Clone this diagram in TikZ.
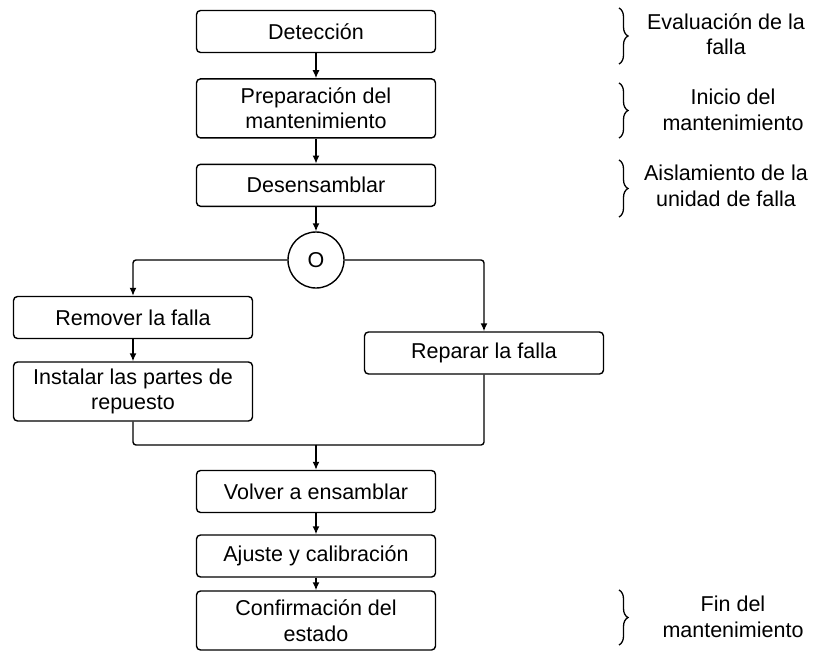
\documentclass[tikz,border=0pt]{standalone}
\usepackage{fontspec}
\setmainfont{Liberation Sans}
\usetikzlibrary{arrows.meta, positioning, decorations.pathreplacing}

\begin{document}
\begin{tikzpicture}[
                x=1pt, y=-1pt,
                node distance=25pt,
                line width=1.4pt,
                box/.style={draw, rounded corners=4pt, minimum width=239pt, minimum height=42pt, align=center, inner sep=2pt, font=\fontsize{21.5}{25.5}\selectfont},
                tallbox/.style={box, minimum height=59pt},
                etapa/.style={align=center, font=\fontsize{21.5}{25.5}\selectfont},
                llave/.style={decorate, decoration={brace, amplitude=9pt}, line width=1.3pt},
                flecha/.style={-{Latex[length=8pt, width=7pt]}}
            ]
                \useasboundingbox (0,0) rectangle (813,650);

                % columna principal
                \node[box] (deteccion) at (316,31.5) {Detección};
                \node[tallbox, below=of deteccion] (preparacion) {Preparación del\\mantenimiento};
                \node[box, below=of preparacion] (desensamblar) {Desensamblar};
                \node[draw, circle, minimum size=56pt, inner sep=0pt, font=\fontsize{21.5}{25.5}\selectfont] (o) at (316,260) {O};

                % ramas
                \node[box] (remover) at (133,317.5) {Remover la falla};
                \node[tallbox] (instalar) at (133,391.5) {Instalar las partes de\\repuesto};
                \node[box] (reparar) at (484,353) {Reparar la falla};

                \node[box] (volver) at (316,491.5) {Volver a ensamblar};
                \node[box] (ajuste) at (316,556) {Ajuste y calibración};
                \node[tallbox] (confirmacion) at (316,620.5) {Confirmación del\\estado};
                \coordinate (union) at (316,445);

                % etapas
                \node[etapa] (evaluacion) at (726,34) {Evaluación de la\\falla};
                \node[etapa] (inicio) at (733,110) {Inicio del\\mantenimiento};
                \node[etapa] (aislamiento) at (726,186) {Aislamiento de la\\unidad de falla};
                \node[etapa] (fin) at (733,617) {Fin del\\mantenimiento};

                \draw[llave] (619,8) -- (619,64);
                \draw[llave] (619,83) -- (619,138);
                \draw[llave] (619,160) -- (619,217);
                \draw[llave] (619,590) -- (619,645);

                \draw[flecha] (deteccion) -- (preparacion);
                \draw[flecha] (preparacion) -- (desensamblar);
                \draw[flecha] (desensamblar) -- (o);
                \draw[flecha, rounded corners=3pt] (o.west) -| (remover.north);
                \draw[flecha, rounded corners=3pt] (o.east) -| (reparar.north);
                \draw[flecha] (remover) -- (instalar);
                \draw[rounded corners=3pt] (instalar.south) |- (union);
                \draw[rounded corners=3pt] (reparar.south) |- (union);
                \draw[flecha] (union) -- (volver);
                \draw[flecha] (volver) -- (ajuste);
                \draw[flecha] (ajuste) -- (confirmacion);
            \end{tikzpicture}
\end{document}
